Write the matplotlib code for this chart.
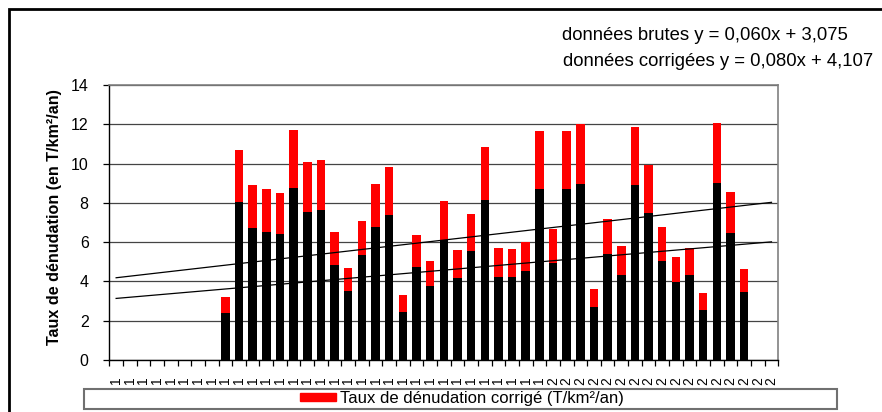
import numpy as np
import matplotlib.pyplot as plt
from matplotlib.patches import Rectangle, Patch

plt.rcParams['font.family'] = ['Liberation Sans', 'DejaVu Sans']

# years on the x axis (only the first digit survives in the original labels)
years = list(range(1968, 2017))
first_year = 1976

# raw and corrected denudation rates (T/km2/an), 1976-2014
brutes = [2.41, 8.02, 6.71, 6.53, 6.41, 8.76, 7.53, 7.66, 4.86, 3.51,
          5.34, 6.76, 7.36, 2.44, 4.71, 3.76, 6.10, 4.20, 5.56, 8.17,
          4.24, 4.24, 4.51, 8.73, 4.95, 8.73, 8.95, 2.71, 5.41, 4.34,
          8.90, 7.46, 5.05, 3.95, 4.31, 2.56, 9.03, 6.44, 3.47]
corrigees = [3.22, 10.69, 8.93, 8.68, 8.49, 11.69, 10.08, 10.20, 6.53, 4.68,
             7.08, 8.98, 9.81, 3.32, 6.36, 5.03, 8.10, 5.59, 7.41, 10.83,
             5.69, 5.64, 6.00, 11.66, 6.66, 11.66, 12.00, 3.63, 7.19, 5.80,
             11.88, 9.95, 6.76, 5.25, 5.68, 3.42, 12.05, 8.54, 4.63]

# linear trends given on the chart
trend_brutes = (0.060, 3.075)
trend_corr = (0.080, 4.107)

W, H = 882, 412
fig = plt.figure(figsize=(W / 100, H / 100), dpi=100)
ax = fig.add_axes([109.3 / W, 1 - 360 / H, (778.3 - 109.3) / W, (360 - 85) / H])

n = len(years)
x = np.arange(1, n + 1)
raw = np.zeros(n)
corr = np.zeros(n)
i0 = years.index(first_year)
raw[i0:i0 + len(brutes)] = brutes
corr[i0:i0 + len(corrigees)] = corrigees

ax.bar(x, raw, width=0.62, color='black', zorder=3)
ax.bar(x, corr - raw, bottom=raw, width=0.62, color='#ff0000', zorder=3)

ax.plot(x, trend_brutes[0] * x + trend_brutes[1], color='black', lw=0.9, zorder=4)
ax.plot(x, trend_corr[0] * x + trend_corr[1], color='black', lw=0.9, zorder=4)

ax.set_xlim(0.5, n + 0.5)
ax.set_ylim(0, 14)
ax.set_yticks(np.arange(0, 15, 2))
ax.yaxis.grid(True, color='#444444', lw=0.9, zorder=0)
ax.set_axisbelow(True)

ax.set_xticks(x)
ax.set_xticklabels([str(y)[0] for y in years], rotation=90, fontsize=10)
ax.tick_params(axis='x', length=0, pad=12)
ax.set_xticks(np.arange(0.5, n + 1), minor=True)
ax.tick_params(axis='x', which='minor', length=4, width=0.9, color='black')
ax.tick_params(axis='y', length=4.3, width=0.9, labelsize=11.5, pad=10.5)

for s in ['left', 'bottom']:
    ax.spines[s].set_color('black')
    ax.spines[s].set_linewidth(1)
for s in ['top', 'right']:
    ax.spines[s].set_color('#808080')
    ax.spines[s].set_linewidth(1.2)

ax.set_ylabel('Taux de dénudation (en T/km²/an)', fontsize=11.6, fontweight='bold')
ax.yaxis.set_label_coords((62 - 109.3) / 669, 0.518)

# legend box
fig.patches.append(Rectangle((84 / W, 1 - 409 / H), (837 - 84) / W, 20 / H,
                             transform=fig.transFigure, facecolor='white',
                             edgecolor='#707070', lw=1.5, zorder=4))
# outer chart frame
fig.patches.append(Rectangle((9 / W, -0.1), 1, 1.1 - 9.5 / H,
                             transform=fig.transFigure, facecolor='none',
                             edgecolor='black', lw=2, zorder=6))

fig.legend(handles=[Patch(color='#ff0000', label='Taux de dénudation corrigé (T/km²/an)')],
           loc='center', bbox_to_anchor=(462 / W, 1 - 398.5 / H), frameon=False,
           fontsize=12, handlelength=2.15, handleheight=0.33, handletextpad=0.25,
           borderpad=0)

fig.text(562 / W, 1 - 36 / H, 'données brutes y = 0,060x + 3,075', fontsize=13.3, va='center')
fig.text(563 / W, 1 - 62 / H, 'données corrigées y = 0,080x + 4,107', fontsize=13.3, va='center')

fig.savefig('out.png', dpi=100)
